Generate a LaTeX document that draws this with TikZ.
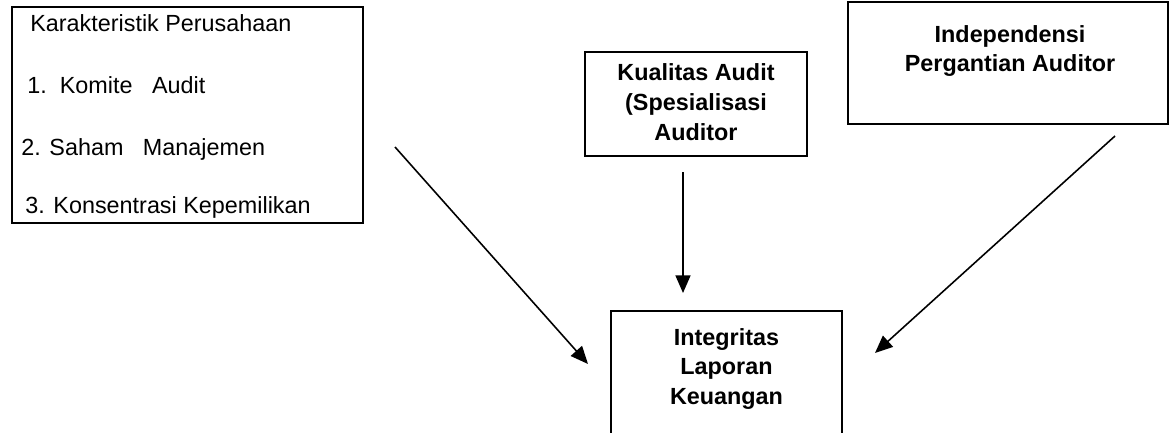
\documentclass[tikz,border=0pt]{standalone}
\usepackage{fontspec}
\setmainfont{Liberation Sans}
\usetikzlibrary{positioning,arrows.meta}

\begin{document}
\begin{tikzpicture}[x=0.02cm, y=-0.02cm,
	box/.style={draw, line width=1pt, rectangle, inner sep=0pt},
	boldtext/.style={font=\bfseries\fontsize{13.3}{17}\selectfont, align=center},
	plaintext/.style={font=\fontsize{13.3}{17}\selectfont, anchor=base west, inner sep=0pt},
	arr/.style={-{Triangle[length=10pt,width=8.5pt]}, line width=0.9pt}]
	\useasboundingbox (0,0) rectangle (1171,433);
	% boxes
	\node[box, minimum width=7.02cm, minimum height=4.32cm] (karakteristik) at (187.5,115) {};
	\node[box, minimum width=4.44cm, minimum height=2.08cm] (kualitas) at (696,104) {};
	\node[box, minimum width=6.4cm, minimum height=2.44cm] (independensi) at (1008,63) {};
	\node[box, minimum width=4.62cm, minimum height=2.68cm] (integritas) at (726.5,378) {};
	% texts
	\node[plaintext] (k0) at (30,31) {Karakteristik Perusahaan};
	\node[plaintext] (k1) at (27,93) {1.\ \ Komite\ \ \ Audit};
	\node[plaintext] (k2) at (21,155) {2. Saham\ \ \ Manajemen};
	\node[plaintext] (k3) at (25,213) {3. Konsentrasi Kepemilikan};
	\node[boldtext] (kualitasText) at (696,102) {Kualitas Audit\\(Spesialisasi\\Auditor};
	\node[boldtext] (independensiText) at (1010,51) {Independensi\\Pergantian Auditor};
	\node[boldtext] (integritasText) at (726.5,369) {Integritas\\Laporan\\Keuangan};
	% arrow ends
	\coordinate (a0) at (395,147);
	\coordinate (b0) at (588,364);
	\coordinate (a1) at (683,172);
	\coordinate (b1) at (683,293);
	\coordinate (a2) at (1115,136);
	\coordinate (b2) at (875,353);
	\draw[arr] (a0) -- (b0);
	\draw[arr] (a1) -- (b1);
	\draw[arr] (a2) -- (b2);
\end{tikzpicture}
\end{document}
